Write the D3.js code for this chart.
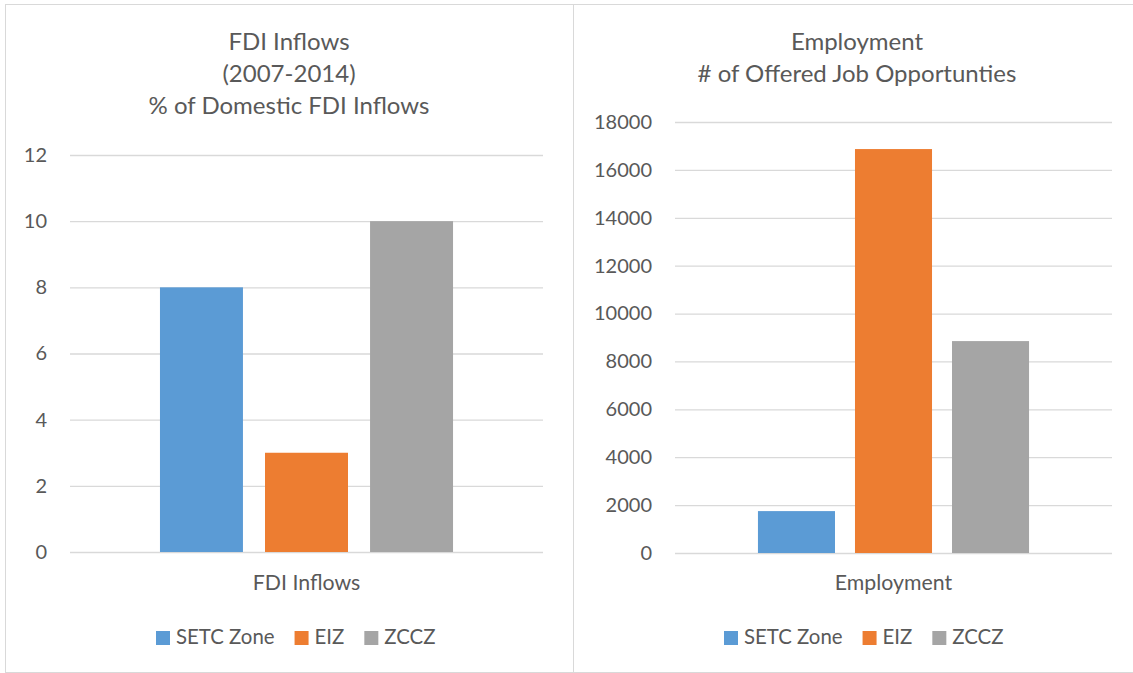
<!DOCTYPE html>
<html>
<head>
<meta charset="utf-8">
<script src="https://cdn.jsdelivr.net/npm/d3@7"></script>
<style>
  html, body { margin: 0; padding: 0; background: #fff; }
  svg { display: block; }
  text { font-family: Lato, "Open Sans", sans-serif; fill: #595959; }
</style>
</head>
<body>
<svg id="chart" width="1133" height="673"></svg>
<script>
// ---- data ----
const series = ["SETC Zone", "EIZ", "ZCCZ"];
const colors = ["#5b9bd5", "#ed7d31", "#a5a5a5"];

const fdiCategory = ["FDI Inflows"];
const fdiValues = [8, 3, 10];
const fdiTicks = [0, 2, 4, 6, 8, 10, 12];
const fdiTitle = ["FDI Inflows", "(2007-2014)", "% of Domestic FDI Inflows"];

const empCategory = ["Employment"];
const empValues = [1750, 16870, 8850];
const empTicks = [0, 2000, 4000, 6000, 8000, 10000, 12000, 14000, 16000, 18000];
const empTitle = ["Employment", "# of Offered Job Opportunties"];

// ---- drawing ----
const svg = d3.select("#chart");

function panel(cfg) {
  const g = svg.append("g");
  // border
  g.append("rect")
    .attr("x", cfg.box[0] + 0.5).attr("y", cfg.box[1] + 0.5)
    .attr("width", cfg.box[2] - cfg.box[0]).attr("height", cfg.box[3] - cfg.box[1])
    .attr("fill", "none").attr("stroke", "#d9d9d9").attr("stroke-width", 1);

  // title
  cfg.title.forEach((t, i) => {
    g.append("text").attr("x", cfg.titleX).attr("y", 50 + i * 32)
      .attr("text-anchor", "middle").attr("font-size", 24).text(t);
  });

  const y = d3.scaleLinear().domain(cfg.domain).range([cfg.y0, cfg.y1]);
  const x0 = d3.scaleBand().domain(cfg.category).range([cfg.x0, cfg.x1])
    .paddingInner(0).paddingOuter(cfg.outer);
  const x1 = d3.scaleBand().domain(series).range([0, x0.bandwidth()])
    .paddingInner(cfg.inner).paddingOuter(0);

  // gridlines + tick labels via axis
  const axis = d3.axisLeft(y).tickValues(cfg.ticks)
    .tickSize(-(cfg.x1 - cfg.x0)).tickPadding(23).tickFormat(d3.format("d"));
  const ag = g.append("g").attr("transform", `translate(${cfg.x0},0)`).call(axis);
  ag.select(".domain").remove();
  ag.selectAll(".tick line").attr("stroke", "#d9d9d9").attr("stroke-width", 1.3);
  ag.selectAll(".tick text").attr("font-size", 20).attr("fill", "#595959")
    .attr("font-family", "Lato, 'Open Sans', sans-serif");

  // bars
  const cat = cfg.category[0];
  g.selectAll("rect.bar").data(cfg.values).enter().append("rect")
    .attr("class", "bar")
    .attr("x", (d, i) => x0(cat) + x1(series[i]))
    .attr("width", x1.bandwidth())
    .attr("y", d => y(d))
    .attr("height", d => y(0) - y(d))
    .attr("fill", (d, i) => colors[i]);

  // category label
  g.append("text").attr("x", x0(cat) + x0.bandwidth() / 2).attr("y", 590)
    .attr("text-anchor", "middle").attr("font-size", 21.3).text(cat);

  // legend
  const lg = g.append("g");
  let lx = cfg.legendX;
  series.forEach((s, i) => {
    lg.append("rect").attr("x", lx).attr("y", 631).attr("width", 14).attr("height", 14)
      .attr("fill", colors[i]);
    const t = lg.append("text").attr("x", lx + 20).attr("y", 644)
      .attr("font-size", 20.4).text(s);
    lx += 20 + t.node().getComputedTextLength() + 20;
  });
}

panel({
  box: [5, 4, 573, 672],
  titleX: 289,
  title: fdiTitle,
  domain: [0, 12], y0: 552, y1: 155,
  x0: 70, x1: 543, outer: 0.307, inner: 0.21,
  ticks: fdiTicks, category: fdiCategory, values: fdiValues,
  legendX: 156
});

panel({
  box: [573, 4, 1140, 672],
  titleX: 857,
  title: empTitle,
  domain: [0, 18000], y0: 553, y1: 122,
  x0: 675, x1: 1112, outer: 0.306, inner: 0.206,
  ticks: empTicks, category: empCategory, values: empValues,
  legendX: 724
});
</script>
</body>
</html>
